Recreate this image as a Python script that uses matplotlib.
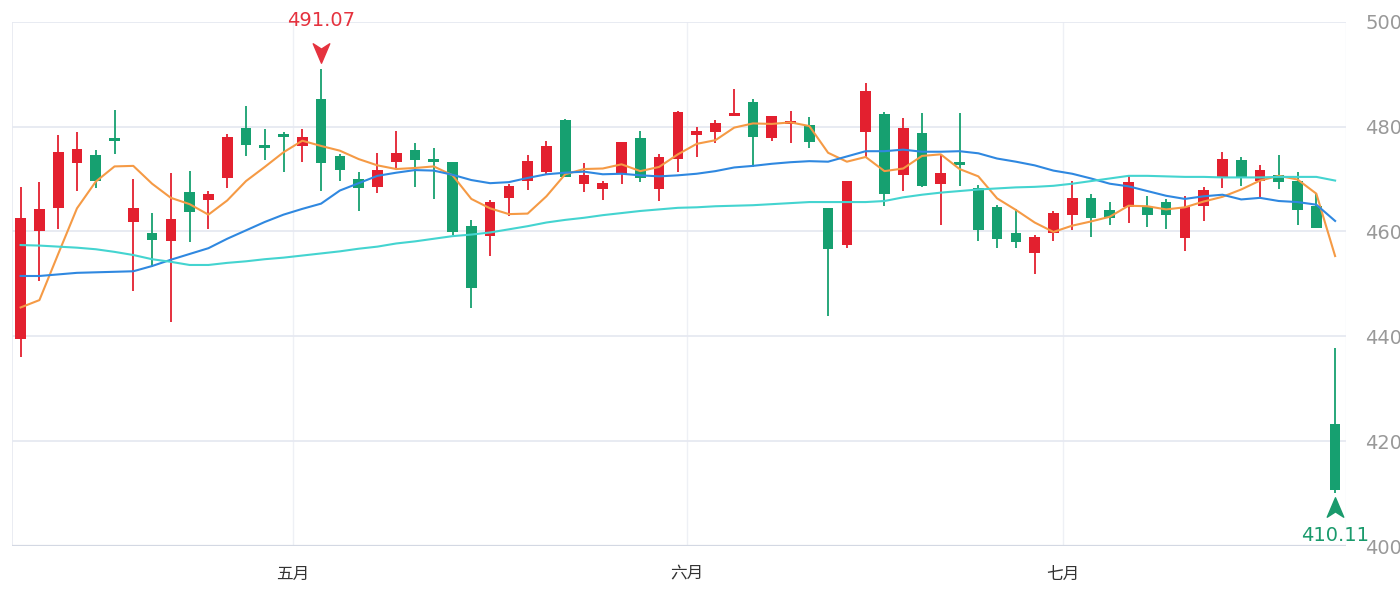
import numpy as np
import matplotlib
matplotlib.use('Agg')
import matplotlib.pyplot as plt
from matplotlib import font_manager
from matplotlib.path import Path
from matplotlib.transforms import offset_copy

# ---------------- data ----------------
month_labels = ['五月', '六月', '七月']
month_counts = [15, 21, 20, 15]          # trading days shown in Apr, May, Jun, Jul

opens = [439.5, 460.1, 464.4, 473.0, 474.6, 477.8, 461.8, 459.7, 458.2, 467.5,
         465.9, 470.1, 479.7, 476.4, 478.6, 476.2, 485.2, 474.3, 470.0, 468.5,
         473.2, 475.6, 473.8, 473.2, 461.1, 459.1, 466.3, 469.6, 471.3, 481.2,
         469.0, 468.0, 470.9, 477.9, 468.0, 473.8, 478.3, 479.0, 482.1, 484.7,
         477.9, 480.5, 480.3, 464.5, 457.5, 479.0, 482.4, 470.8, 478.8, 469.1,
         473.2, 468.2, 464.6, 459.7, 455.9, 459.7, 463.2, 466.4, 464.1, 464.6,
         464.6, 465.7, 458.8, 464.8, 470.1, 473.7, 469.7, 470.8, 469.7, 464.9,
         423.3]
highs = [468.4, 469.4, 478.3, 479.0, 475.6, 483.1, 470.0, 463.5, 471.1, 471.6,
         467.8, 478.6, 483.9, 479.6, 479.0, 479.6, 491.07, 474.7, 471.3, 475.0,
         479.2, 476.8, 475.9, 473.3, 462.1, 466.0, 469.0, 474.6, 477.3, 481.4,
         473.0, 469.7, 477.1, 479.2, 474.7, 483.0, 479.9, 481.2, 487.1, 485.2,
         482.0, 483.0, 481.8, 464.5, 469.6, 488.4, 482.7, 481.7, 482.6, 474.5,
         482.6, 468.8, 465.1, 464.3, 459.3, 463.9, 469.7, 467.1, 465.6, 470.5,
         466.8, 466.2, 466.7, 468.4, 475.1, 474.1, 472.7, 474.6, 471.4, 467.3,
         437.8]
lows = [436.0, 450.5, 460.5, 467.8, 468.2, 474.7, 448.7, 453.3, 442.7, 458.0,
        460.5, 468.2, 474.4, 473.6, 471.4, 473.3, 467.7, 469.7, 463.9, 467.3,
        471.9, 468.4, 466.1, 459.4, 445.4, 455.3, 463.0, 467.9, 471.0, 470.3,
        467.5, 465.9, 469.0, 469.4, 465.8, 471.3, 474.2, 476.9, 482.1, 472.2,
        477.3, 476.9, 476.0, 443.9, 456.9, 474.0, 464.8, 467.7, 468.4, 461.3,
        468.7, 458.1, 456.8, 456.9, 451.8, 458.1, 460.3, 458.9, 461.3, 461.6,
        460.8, 460.5, 456.2, 462.0, 468.2, 468.7, 466.3, 468.1, 461.2, 460.6,
        410.11]
closes = [462.6, 464.2, 475.2, 475.7, 469.7, 477.3, 464.5, 458.3, 462.4, 463.7,
          467.2, 478.0, 476.5, 476.0, 478.0, 478.1, 473.0, 471.7, 468.3, 471.7,
          474.9, 473.7, 473.3, 459.9, 449.3, 465.6, 468.6, 473.5, 476.3, 470.4,
          470.8, 469.2, 477.1, 470.1, 474.1, 482.8, 479.2, 480.6, 482.4, 478.1,
          482.0, 481.1, 477.1, 456.7, 469.6, 486.7, 467.2, 479.7, 468.6, 471.1,
          472.7, 460.3, 458.6, 458.0, 458.9, 463.5, 466.3, 462.6, 462.6, 469.4,
          463.2, 463.2, 464.6, 467.9, 473.9, 470.2, 471.8, 469.4, 464.1, 460.6,
          410.7]
ma5 = [445.5, 446.9, 455.7, 464.4, 469.5, 472.4, 472.5, 469.1, 466.4, 465.2,
       463.2, 465.9, 469.6, 472.3, 475.1, 477.3, 476.3, 475.4, 473.8, 472.6,
       471.9, 472.1, 472.4, 470.7, 466.2, 464.4, 463.3, 463.4, 466.7, 470.9,
       471.9, 472.0, 472.8, 471.5, 472.3, 474.7, 476.7, 477.4, 479.8, 480.6,
       480.5, 480.8, 480.1, 475.0, 473.3, 474.2, 471.5, 472.0, 474.4, 474.7,
       471.9, 470.5, 466.3, 464.1, 461.7, 459.9, 461.1, 461.9, 462.8, 464.9,
       464.8, 464.2, 464.6, 465.7, 466.6, 468.0, 469.7, 470.6, 469.9, 467.2,
       455.3]
ma20 = [451.5, 451.5, 451.8, 452.1, 452.2, 452.3, 452.4, 453.4, 454.6, 455.7,
        456.8, 458.6, 460.2, 461.8, 463.2, 464.3, 465.3, 467.8, 469.2, 470.6,
        471.2, 471.7, 471.6, 470.8, 469.8, 469.2, 469.4, 470.2, 470.9, 471.2,
        471.4, 470.9, 471.0, 470.7, 470.5, 470.7, 471.0, 471.5, 472.2, 472.5,
        472.9, 473.2, 473.4, 473.3, 474.3, 475.3, 475.3, 475.6, 475.2, 475.2,
        475.3, 474.9, 473.9, 473.3, 472.6, 471.6, 471.0, 470.1, 469.1, 468.6,
        467.7, 466.8, 466.2, 466.7, 467.0, 466.1, 466.4, 465.8, 465.6, 465.1,
        462.0]
ma60 = [457.4, 457.3, 457.1, 456.9, 456.6, 456.1, 455.5, 454.7, 454.2, 453.6,
        453.6, 454.0, 454.3, 454.7, 455.0, 455.4, 455.8, 456.2, 456.7, 457.1,
        457.7, 458.1, 458.6, 459.1, 459.4, 459.8, 460.4, 461.0, 461.7, 462.2,
        462.6, 463.1, 463.5, 463.9, 464.2, 464.5, 464.6, 464.8, 464.9, 465.0,
        465.2, 465.4, 465.6, 465.6, 465.6, 465.6, 465.8, 466.5, 467.0, 467.4,
        467.7, 468.0, 468.2, 468.4, 468.5, 468.7, 469.1, 469.6, 470.1, 470.6,
        470.6, 470.5, 470.4, 470.4, 470.3, 470.3, 470.3, 470.4, 470.4, 470.4,
        469.7]
y_ticks = [400, 420, 440, 460, 480, 500]

# ---------------- style ----------------
UP = '#e3202f'
DOWN = '#16a070'
C_MA5 = '#f59a45'
C_MA20 = '#2f88e0'
C_MA60 = '#44d4d0'

# prefer a condensed face for the numbers if one is installed
NUM_FONT, NUM_SIZE = 'DejaVu Sans', 12
for f in font_manager.fontManager.ttflist:
    st = str(f.stretch).lower()
    if ('condensed' in st or 'narrow' in f.name.lower() or 'condensed' in f.name.lower()) \
            and f.name in ('Liberation Sans Narrow', 'Roboto Condensed', 'DejaVu Sans Condensed',
                           'Open Sans Condensed', 'Noto Sans', 'DejaVu Sans', 'Roboto', 'Open Sans'):
        NUM_FONT, NUM_SIZE = f.name, 14
        NUM_STRETCH = f.stretch
        break
CJK = ['Noto Sans CJK SC', 'DejaVu Sans']

o = np.array(opens); h = np.array(highs); l = np.array(lows); c = np.array(closes)
x = np.arange(len(o))
up = c >= o
cols = np.where(up, UP, DOWN)

fig = plt.figure(figsize=(14, 6), dpi=100)
ax = fig.add_axes([12 / 1400, 1 - 546 / 600, (1346 - 12) / 1400, (546 - 21.7) / 600])

# wicks
ax.vlines(x, l, h, colors=cols, linewidth=1.3, zorder=2)
# bodies
bottom = np.minimum(o, c)
height = np.maximum(np.abs(c - o), 0.4)
ax.bar(x, height, bottom=bottom, width=0.57, color=cols, linewidth=0, zorder=3)

# moving averages
ax.plot(x, ma5, color=C_MA5, lw=1.5, zorder=4)
ax.plot(x, ma20, color=C_MA20, lw=1.5, zorder=4)
ax.plot(x, ma60, color=C_MA60, lw=1.5, zorder=4)

# axes
ax.set_xlim(-0.46, len(o) - 0.42)
ax.set_ylim(y_ticks[0], y_ticks[-1])
for s in ax.spines.values():
    s.set_visible(False)
ax.axvline(-0.46, color='#e6e9f0', lw=1.2, zorder=0)
ax.axvline(len(o) - 0.42, color='#eef0f5', lw=1.0, zorder=0)
ax.axhline(y_ticks[0], color='#d3d8e3', lw=1.6, zorder=1)

ax.set_yticks(y_ticks)
ax.yaxis.tick_right()
ax.tick_params(axis='y', length=0, pad=14, labelcolor='#999999', labelsize=NUM_SIZE)
for t in ax.get_yticklabels():
    t.set_fontfamily(NUM_FONT)
ax.grid(axis='y', color='#e6e9f1', lw=1.3, zorder=0)

bounds = np.cumsum(month_counts)[:-1] - 0.5
ax.set_xticks(bounds)
ax.set_xticklabels(month_labels, family=CJK, fontsize=12, color='#333333')
ax.tick_params(axis='x', length=0, pad=14)
ax.grid(axis='x', color='#eef0f5', lw=1.0, zorder=0)
ax.set_axisbelow(True)

# max / min markers
down_arrow = Path([(0, -1), (0.85, 1), (0, 0.45), (-0.85, 1), (0, -1)],
                  [Path.MOVETO, Path.LINETO, Path.LINETO, Path.LINETO, Path.CLOSEPOLY])
up_arrow = Path([(0, 1), (0.85, -1), (0, -0.45), (-0.85, -1), (0, 1)],
                [Path.MOVETO, Path.LINETO, Path.LINETO, Path.LINETO, Path.CLOSEPOLY])

hi_i = int(np.argmax(h)); lo_i = int(np.argmin(l))
tr_hi = offset_copy(ax.transData, fig=fig, x=0, y=16, units='dots')
ax.plot([hi_i], [h[hi_i]], marker=down_arrow, markersize=14, color='#e5323e',
        transform=tr_hi, clip_on=False, zorder=6, linestyle='none')
ax.annotate(f'{h[hi_i]:.2f}', xy=(hi_i, h[hi_i]), xytext=(0, 48.5 * 0.72),
            textcoords='offset points', ha='center', va='center', color='#e5323e',
            fontsize=NUM_SIZE, family=NUM_FONT, annotation_clip=False, zorder=6)

tr_lo = offset_copy(ax.transData, fig=fig, x=0, y=-14, units='dots')
ax.plot([lo_i], [l[lo_i]], marker=up_arrow, markersize=14, color='#1a9a6c',
        transform=tr_lo, clip_on=False, zorder=6, linestyle='none')
ax.annotate(f'{l[lo_i]:.2f}', xy=(lo_i, l[lo_i]), xytext=(0, -43 * 0.72),
            textcoords='offset points', ha='center', va='center', color='#1a9a6c',
            fontsize=NUM_SIZE, family=NUM_FONT, annotation_clip=False, zorder=6)

fig.savefig('out.png', dpi=100, facecolor='white')
